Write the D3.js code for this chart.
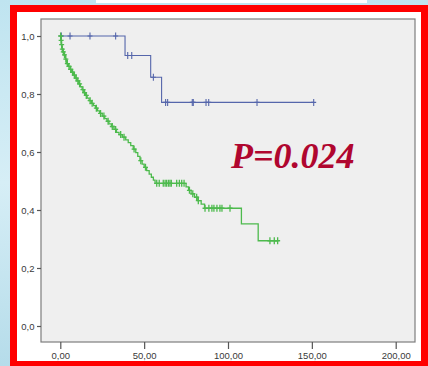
<!DOCTYPE html>
<html>
<head>
<meta charset="utf-8">
<script src="https://cdn.jsdelivr.net/npm/d3@7"></script>
<style>
  html, body { margin: 0; padding: 0; background: #ffffff; }
  svg { display: block; }
</style>
</head>
<body>
<svg id="chart" width="428" height="366"></svg>
<script>
// Axis ticks
const xTicks = [0, 50, 100, 150, 200];
const yTicks = [0, 0.2, 0.4, 0.6, 0.8, 1.0];

// Group 1 (blue): survival steps [time, survival], censored times, follow-up end
const blueSteps = [[0, 1.0], [38.6, 0.933], [53.9, 0.858], [60.4, 0.771]];
const blueCensor = [0.6, 5.8, 17.7, 33.0, 40.2, 42.6, 55.5, 62.8, 64.0, 78.7, 79.3, 86.9, 88.5, 117.3, 151.1];
const blueEnd = 151.1;

// Group 2 (green): survival steps [time, survival], censored times, follow-up end
const greenSteps = [
  [0, 1.0], [0.3, 0.985], [0.6, 0.970], [1.0, 0.955], [1.5, 0.945], [2.2, 0.935],
  [3.0, 0.920], [3.8, 0.905], [4.8, 0.895], [5.8, 0.885], [6.8, 0.875], [7.8, 0.865],
  [8.9, 0.855], [10.0, 0.845], [11.0, 0.835], [12.0, 0.825], [13.0, 0.815], [14.0, 0.805],
  [15.0, 0.795], [16.0, 0.786], [17.2, 0.777], [18.5, 0.768], [19.8, 0.760], [21.0, 0.751],
  [22.2, 0.742], [23.5, 0.733], [25.0, 0.724], [26.5, 0.715], [27.8, 0.706], [29.0, 0.697],
  [30.5, 0.688], [32.0, 0.678], [33.5, 0.668], [35.0, 0.660], [37.0, 0.651], [39.0, 0.642],
  [40.5, 0.632], [42.0, 0.622], [43.5, 0.610], [45.0, 0.598], [46.2, 0.585], [47.5, 0.570],
  [48.8, 0.558], [50.0, 0.547], [51.5, 0.536], [53.0, 0.524], [54.3, 0.513], [55.5, 0.503],
  [56.5, 0.492], [75.0, 0.480], [76.5, 0.468], [78.0, 0.456], [80.0, 0.444], [82.0, 0.432],
  [84.0, 0.420], [86.0, 0.406], [108.0, 0.352], [118.0, 0.294]
];
const greenCensor = [
  0.2, 0.5, 0.8, 1.2, 1.8, 2.5, 3.3, 4.2, 5.2, 6.2, 7.3, 8.4, 9.5, 10.5, 11.5, 13.5, 14.5,
  15.5, 17.8, 19.0, 21.5, 24.0, 26.0, 28.5, 31.0, 33.0, 36.0, 38.0, 44.0, 48.0, 50.8,
  57.5, 59.0, 61.4, 62.5, 63.4, 64.5, 65.4, 66.2, 69.4, 71.0, 72.4, 73.8,
  77.0, 79.0, 81.3, 82.3, 86.3, 88.6, 90.4, 91.6, 93.4, 95.2, 96.4, 101.2,
  125.0, 127.6, 129.6
];
const greenEnd = 130.0;

const pLabel = "P=0.024";

const svg = d3.select("#chart");
const W = 428, H = 366;

// Slide background behind the framed figure
const defs = svg.append("defs");
const bg = defs.append("linearGradient").attr("id", "bg")
  .attr("x1", "0").attr("y1", "0").attr("x2", "0").attr("y2", "1");
bg.append("stop").attr("offset", "0").attr("stop-color", "#bfe4f0");
bg.append("stop").attr("offset", "0.5").attr("stop-color", "#d6eef6");
bg.append("stop").attr("offset", "1").attr("stop-color", "#b5dcea");
svg.append("rect").attr("width", W).attr("height", H).attr("fill", "url(#bg)");
svg.append("rect").attr("x", 96).attr("y", 0).attr("width", 271).attr("height", 3).attr("fill", "#ffffff");

// Red frame with white panel
svg.append("rect").attr("x", 10).attr("y", 5).attr("width", 418).attr("height", 361).attr("fill", "#ff0000");
svg.append("rect").attr("x", 17).attr("y", 12).attr("width", 404).attr("height", 349).attr("fill", "#ffffff");

// Scales
const x = d3.scaleLinear().domain([0, 200]).range([60.3, 395.7]);
const y = d3.scaleLinear().domain([0, 1]).range([326, 36]);

// Plot frame
const frame = { x0: 41, y0: 19, x1: 415, y1: 342 };
svg.append("rect")
  .attr("x", frame.x0).attr("y", frame.y0)
  .attr("width", frame.x1 - frame.x0).attr("height", frame.y1 - frame.y0)
  .attr("fill", "#efefef").attr("stroke", "#7d7d7d").attr("stroke-width", 1.2);

const loc = d3.formatLocale({ decimal: ",", thousands: ".", grouping: [3], currency: ["", ""] });

// Y axis
const yAxis = svg.append("g").attr("transform", `translate(${frame.x0},0)`)
  .call(d3.axisLeft(y).tickValues(yTicks).tickFormat(loc.format(".1f")).tickSize(4).tickPadding(2.5));
// X axis
const xAxis = svg.append("g").attr("transform", `translate(0,${frame.y1})`)
  .call(d3.axisBottom(x).tickValues(xTicks).tickFormat(loc.format(".2f")).tickSize(7).tickPadding(3));

[yAxis, xAxis].forEach(g => {
  g.select(".domain").remove();
  g.selectAll(".tick line").attr("stroke", "#555").attr("stroke-width", 1.2);
  g.selectAll(".tick text").attr("fill", "#3a3a3a")
    .style("font-family", "'Liberation Sans', Arial, sans-serif").style("font-size", "9.5px");
});

// Kaplan–Meier curves
function survAt(steps, t) {
  let s = steps[0][1];
  for (const [ti, si] of steps) { if (ti <= t) s = si; }
  return s;
}

function drawCurve(steps, censor, end, color, width) {
  const pts = steps.concat([[end, steps[steps.length - 1][1]]]);
  const line = d3.line().x(d => x(d[0])).y(d => y(d[1])).curve(d3.curveStepAfter);
  svg.append("path").datum(pts)
    .attr("d", line).attr("fill", "none")
    .attr("stroke", color).attr("stroke-width", width);
  svg.append("g").selectAll("path").data(censor).join("path")
    .attr("transform", t => `translate(${x(t)},${y(survAt(steps, t))})`)
    .attr("d", "M-2.5,0H2.5M0,-3.5V3.5")
    .attr("fill", "none").attr("stroke", color).attr("stroke-width", width);
}

drawCurve(blueSteps, blueCensor, blueEnd, "#5566ab", 1.1);
drawCurve(greenSteps, greenCensor, greenEnd, "#4dba4d", 1.3);

// Log-rank p-value
svg.append("text")
  .attr("x", 231).attr("y", 168)
  .attr("fill", "#b0062f")
  .style("font-family", "'Liberation Serif', 'Times New Roman', serif")
  .style("font-weight", "bold").style("font-style", "italic")
  .style("font-size", "36px")
  .text(pLabel);
</script>
</body>
</html>
